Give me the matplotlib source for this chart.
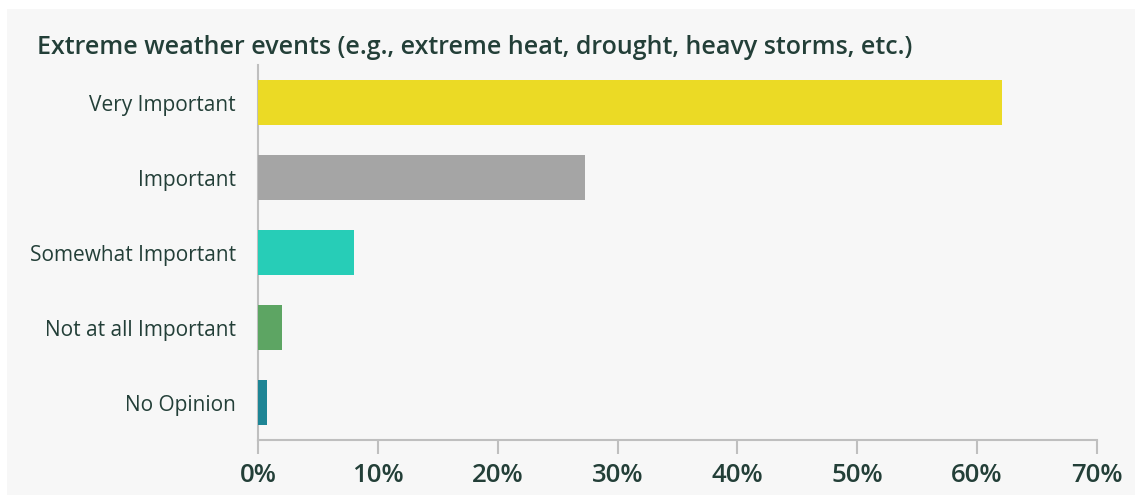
import matplotlib
matplotlib.use("Agg")
import matplotlib.pyplot as plt
from matplotlib.ticker import FuncFormatter

categories = ["Very Important", "Important", "Somewhat Important",
              "Not at all Important", "No Opinion"]
values = [62.1, 27.3, 8.0, 2.0, 0.7]
colors = ["#EBDA25", "#A5A5A5", "#27CDB7", "#5DA563", "#1E8595"]
title = "Extreme weather events (e.g., extreme heat, drought, heavy storms, etc.)"
xticks = [0, 10, 20, 30, 40, 50, 60, 70]

plt.rcParams['font.family'] = ['Open Sans', 'DejaVu Sans']
text_color = "#233F38"
bg = "#F7F7F7"

fig = plt.figure(figsize=(11.35, 4.95), dpi=100, facecolor="white")
# panel background
fig.patches.append(plt.Rectangle((7/1135, 0), 1 - 7/1135, 1 - 9/495,
                                 transform=fig.transFigure, facecolor=bg,
                                 edgecolor="none", zorder=-10))

ax = fig.add_axes([258.3/1135, (495-440.3)/495, (1096.7-258.3)/1135, (440.3-65)/495])
ax.set_facecolor(bg)
ypos = list(range(len(categories)))
ax.barh(ypos, values, height=0.6, color=colors, zorder=3)
ax.set_ylim(len(categories) - 0.5, -0.5)
ax.set_xlim(0, 70)
ax.set_xticks(xticks)
ax.xaxis.set_major_formatter(FuncFormatter(lambda v, p: f"{v:.0f}%"))
ax.set_yticks(ypos)
ax.set_yticklabels(categories, fontsize=15, color=text_color)
for lbl in ax.get_xticklabels():
    lbl.set_fontsize(18.5)
    lbl.set_fontweight("semibold")
    lbl.set_color(text_color)
for s in ["top", "right"]:
    ax.spines[s].set_visible(False)
for s in ["left", "bottom"]:
    ax.spines[s].set_color("#BFBFBF")
    ax.spines[s].set_linewidth(1.5)
ax.tick_params(axis="y", length=0, pad=16)
ax.tick_params(axis="x", length=10, width=1.5, color="#BFBFBF", pad=6, direction="out")

fig.text(37/1135, 1 - 47/495, title, fontsize=18, fontweight="semibold",
         color=text_color, ha="left", va="center")

fig.savefig("out.png", dpi=100, facecolor="white")
